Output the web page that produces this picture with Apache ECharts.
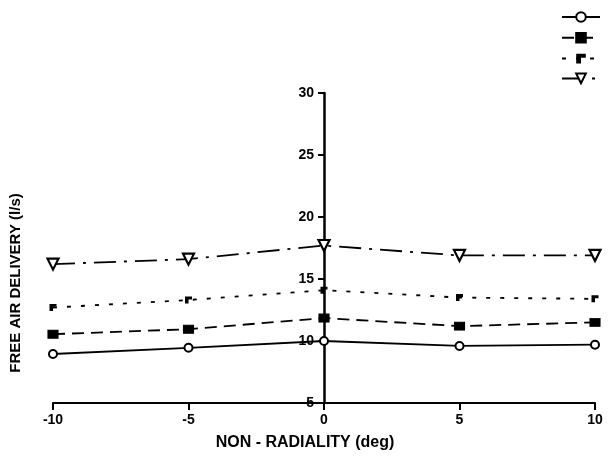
<!DOCTYPE html>
<html>
<head>
<meta charset="utf-8">
<script src="https://cdn.jsdelivr.net/npm/echarts@6/dist/echarts.min.js"></script>
<style>html,body{margin:0;padding:0;background:#fff}#c{width:608px;height:467px}</style>
</head>
<body>
<div id="c"></div>
<script>
var xValues = [-10, -5, 0, 5, 10];
var seriesNames = ['A', 'B', 'C', 'D'];
var valsCircle = [8.95, 9.45, 10.0, 9.6, 9.7];
var valsSquare = [10.55, 10.95, 11.85, 11.2, 11.5];
var valsDotted = [12.7, 13.3, 14.1, 13.5, 13.4];
var valsTriangle = [16.2, 16.6, 17.7, 16.9, 16.9];
var xTitle = 'NON - RADIALITY (deg)';
var yTitle = 'FREE AIR DELIVERY (l/s)';

function pts(v){ return xValues.map(function(x,i){ return [x, v[i]]; }); }
var font = '"Liberation Sans", Arial, sans-serif';
var chart = echarts.init(document.getElementById('c'));
var rMarker = 'path://M2,0 L10,0 L10,4 L6,4 L6,10 L2,10 Z';
var gridLeft = 53, gridRight = 13;
var plotW = 608 - gridLeft - gridRight;
var zeroX = gridLeft + plotW / 2;
chart.setOption({
  animation: false,
  backgroundColor: '#fff',
  grid: [
    {left: gridLeft, right: gridRight, top: 93, bottom: 64},
    {left: gridLeft, right: gridRight, top: 163, bottom: 64},
    {left: zeroX, width: 10, top: 93, bottom: 64}
  ],
  legend: {
    orient: 'vertical', right: 2, top: 6, itemWidth: 38, itemHeight: 12, itemGap: 9,
    formatter: function(){ return ''; },
    textStyle: {fontSize: 1},
    data: seriesNames
  },
  xAxis: [{
    type: 'value', min: -10, max: 10, interval: 5, gridIndex: 0,
    axisLine: {onZero: false, lineStyle: {color: '#000', width: 2}},
    axisTick: {show: true, length: 7, lineStyle: {color: '#000', width: 2}},
    axisLabel: {color: '#000', fontSize: 14, fontFamily: font, margin: 10, fontWeight: 'bold'},
    splitLine: {show: false},
    name: xTitle, nameLocation: 'middle', nameGap: 32,
    nameTextStyle: {color: '#000', fontSize: 16, fontFamily: font, fontWeight: 'bold', padding: [0, 38, 0, 0]}
  }, {
    type: 'value', min: -10, max: 10, gridIndex: 1, show: false
  }, {
    type: 'value', min: 0, max: 1, gridIndex: 2, show: false
  }],
  yAxis: [{
    type: 'value', min: 5, max: 30, interval: 5, gridIndex: 0, show: false
  }, {
    type: 'value', min: 5, max: 30, position: 'left', gridIndex: 1,
    axisLine: {show: false}, axisTick: {show: false}, axisLabel: {show: false}, splitLine: {show: false},
    name: yTitle, nameLocation: 'middle', nameGap: 35, nameRotate: 90,
    nameTextStyle: {color: '#000', fontSize: 15, fontFamily: font, fontWeight: 'bold'}
  }, {
    type: 'value', min: 5, max: 30, interval: 5, gridIndex: 2, position: 'left',
    axisLine: {show: true, onZero: false, lineStyle: {color: '#000', width: 2.5}},
    axisTick: {show: true, length: 6, lineStyle: {color: '#000', width: 2}},
    axisLabel: {color: '#000', fontSize: 14, fontFamily: font, margin: 10, fontWeight: 'bold'},
    splitLine: {show: false}
  }],
  series: [
    {name: 'A', type: 'line', data: pts(valsCircle), symbol: 'circle', symbolSize: 8,
     itemStyle: {color: '#fff', borderColor: '#000', borderWidth: 2},
     lineStyle: {color: '#000', width: 1.8, type: 'solid'}},
    {name: 'B', type: 'line', data: pts(valsSquare), symbol: 'rect', symbolSize: [10, 8],
     itemStyle: {color: '#000', borderColor: '#000', borderWidth: 1},
     lineStyle: {color: '#000', width: 1.8, type: [12, 7]}},
    {name: 'C', type: 'line', data: pts(valsDotted), symbol: rMarker, symbolSize: 7,
     itemStyle: {color: '#000', borderColor: '#000', borderWidth: 0},
     lineStyle: {color: '#000', width: 1.8, type: [4, 10]}},
    {name: 'D', type: 'line', data: pts(valsTriangle), symbol: 'triangle', symbolRotate: 180, symbolSize: 11,
     itemStyle: {color: '#fff', borderColor: '#000', borderWidth: 2.2},
     lineStyle: {color: '#000', width: 1.8, type: [22, 8, 3, 8]}}
  ]
});
</script>
</body>
</html>
